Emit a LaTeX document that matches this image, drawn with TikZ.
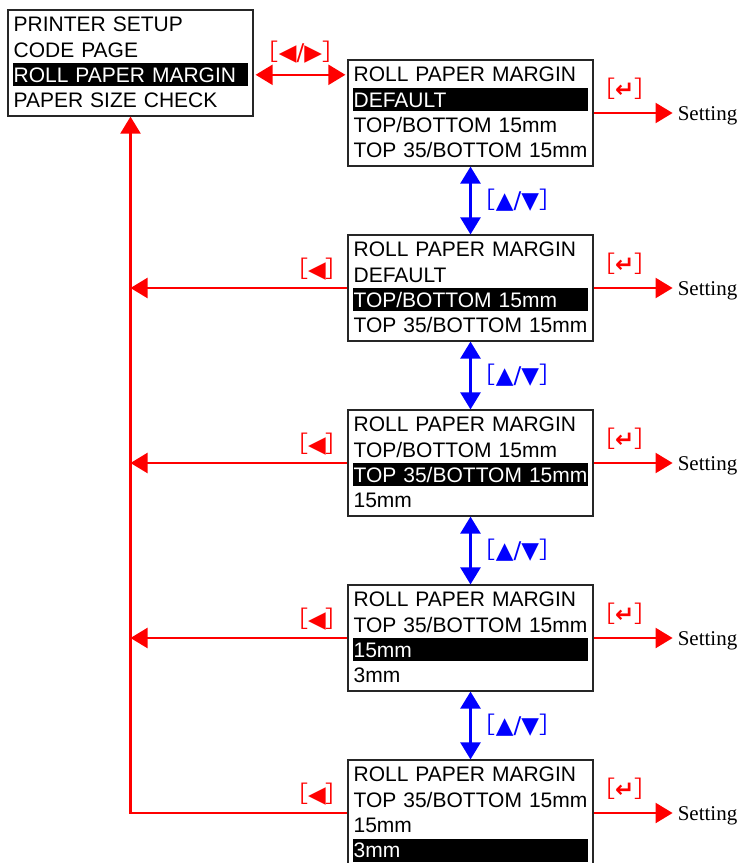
\documentclass[tikz,border=0pt]{standalone}
\usepackage{fontspec}
\setmainfont{Liberation Sans}
\newfontfamily\timesfont{Liberation Serif}
\newfontfamily\bracketfont{Noto Sans CJK JP}
\newfontfamily\glyphfont{DejaVu Sans}
\usetikzlibrary{arrows.meta, positioning}

\newcommand{\keylabel}[1]{{\bracketfont ［}{\glyphfont #1}{\bracketfont ］}}
\newcommand{\screen}[7]{%
  \node[screen] (#1) at (#2) {};
  \def\selrow{#3}%
  \node[menurow=1] (#1-1) at ([xshift=5pt,yshift=-15pt]#1.north west) {\mbox{#4}};
  \node[menurow=2] (#1-2) at ([xshift=5pt,yshift=-40.2pt]#1.north west) {\mbox{#5}};
  \node[menurow=3] (#1-3) at ([xshift=5pt,yshift=-65.4pt]#1.north west) {\mbox{#6}};
  \node[menurow=4] (#1-4) at ([xshift=5pt,yshift=-90.6pt]#1.north west) {\mbox{#7}};
}

\tikzset{
  screen/.style={draw=black!85, line width=1.2pt, minimum width=245pt, minimum height=106pt, inner sep=0pt},
  rowtext/.style={anchor=west, inner xsep=1pt, inner ysep=0pt, text width=233pt, align=left,
    text height=15pt, text depth=0pt, minimum height=23pt, font=\fontsize{21}{25}\selectfont},
  chosen/.style={rowtext, fill=black, text=white},
  menurow/.code={\ifnum#1=\selrow\relax\pgfkeysalso{chosen}\else\pgfkeysalso{rowtext}\fi},
  redline/.style={red, line width=2.2pt},
  blueline/.style={blue, line width=2.6pt},
  keyred/.style={red, inner sep=0pt, font=\fontsize{23}{23}\selectfont},
  keyblue/.style={keyred, blue},
  setting/.style={inner sep=2pt, text height=14pt, text depth=0pt, font=\timesfont\fontsize{21}{25}\selectfont},
}

\begin{document}
\begin{tikzpicture}[x=1pt, y=-1pt, >={Triangle[length=17pt,width=20pt]}]
\useasboundingbox (0,0) rectangle (739,863);

\screen{menu}{130.5,63}{3}{PRINTER SETUP}{CODE PAGE}{ROLL PAPER MARGIN}{PAPER SIZE CHECK}
\screen{rpm1}{470.5,113}{2}{ROLL PAPER MARGIN}{DEFAULT}{TOP/BOTTOM 15mm}{TOP 35/BOTTOM 15mm}
\screen{rpm2}{470.5,288}{3}{ROLL PAPER MARGIN}{DEFAULT}{TOP/BOTTOM 15mm}{TOP 35/BOTTOM 15mm}
\screen{rpm3}{470.5,463}{3}{ROLL PAPER MARGIN}{TOP/BOTTOM 15mm}{TOP 35/BOTTOM 15mm}{15mm}
\screen{rpm4}{470.5,638}{3}{ROLL PAPER MARGIN}{TOP 35/BOTTOM 15mm}{15mm}{3mm}
\screen{rpm5}{470.5,813}{4}{ROLL PAPER MARGIN}{TOP 35/BOTTOM 15mm}{15mm}{3mm}

\node[setting, right=82pt of rpm1] (set1) {Setting};
\node[setting, right=82pt of rpm2] (set2) {Setting};
\node[setting, right=82pt of rpm3] (set3) {Setting};
\node[setting, right=82pt of rpm4] (set4) {Setting};
\node[setting, right=82pt of rpm5] (set5) {Setting};

\draw[redline, <->, shorten <=2pt, shorten >=2pt] (menu.east |- menu-3) -- node[keyred, yshift=23pt] {\keylabel{◀/▶}} (rpm1.west |- menu-3);

\draw[redline, ->, shorten >=3pt] (rpm1.east) -- node[keyred, pos=.38, yshift=24pt] {\keylabel{\bfseries ↵}} (set1.west);
\draw[redline, ->, shorten >=3pt] (rpm2.east) -- node[keyred, pos=.38, yshift=24pt] {\keylabel{\bfseries ↵}} (set2.west);
\draw[redline, ->, shorten >=3pt] (rpm3.east) -- node[keyred, pos=.38, yshift=24pt] {\keylabel{\bfseries ↵}} (set3.west);
\draw[redline, ->, shorten >=3pt] (rpm4.east) -- node[keyred, pos=.38, yshift=24pt] {\keylabel{\bfseries ↵}} (set4.west);
\draw[redline, ->, shorten >=3pt] (rpm5.east) -- node[keyred, pos=.38, yshift=24pt] {\keylabel{\bfseries ↵}} (set5.west);

\draw[blueline, <->] (rpm1.south) -- node[keyblue, xshift=47pt] {\keylabel{▲/▼}} (rpm2.north);
\draw[blueline, <->] (rpm2.south) -- node[keyblue, xshift=47pt] {\keylabel{▲/▼}} (rpm3.north);
\draw[blueline, <->] (rpm3.south) -- node[keyblue, xshift=47pt] {\keylabel{▲/▼}} (rpm4.north);
\draw[blueline, <->] (rpm4.south) -- node[keyblue, xshift=47pt] {\keylabel{▲/▼}} (rpm5.north);

\draw[redline, ->] (rpm2.west) -- node[keyred, pos=.14, yshift=19pt] {\keylabel{◀}} (menu.south |- rpm2.west);
\draw[redline, ->] (rpm3.west) -- node[keyred, pos=.14, yshift=19pt] {\keylabel{◀}} (menu.south |- rpm3.west);
\draw[redline, ->] (rpm4.west) -- node[keyred, pos=.14, yshift=19pt] {\keylabel{◀}} (menu.south |- rpm4.west);
\draw[redline, ->] (rpm5.west) -- node[keyred, pos=.14, yshift=19pt] {\keylabel{◀}} (menu.south |- rpm5.west) -- (menu.south);
\end{tikzpicture}
\end{document}
